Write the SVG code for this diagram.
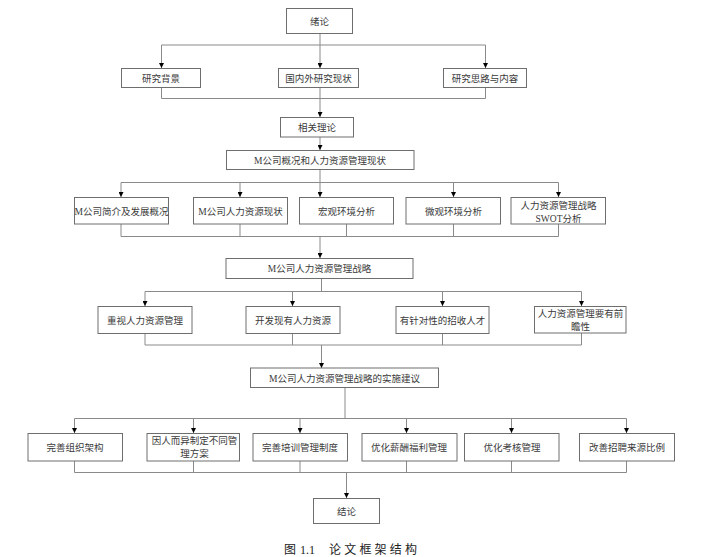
<svg xmlns="http://www.w3.org/2000/svg" width="715" height="557" viewBox="0 0 715 557">
<style>
.box{fill:#fff;stroke:#6e6e6e;stroke-width:1}
.t{font-family:"Liberation Serif","Noto Sans CJK SC",serif;font-size:9.5px;fill:#3a3a3a;text-anchor:middle}
.c{fill:none;stroke:#8a8a8a;stroke-width:1}
.a{fill:none;stroke:#8a8a8a;stroke-width:1;marker-end:url(#ah)}
.cap{font-family:"Liberation Serif","Noto Sans CJK SC",serif;font-size:12px;fill:#222}
</style>
<defs>
<marker id="ah" viewBox="0 0 6 6" refX="6" refY="3" markerWidth="5" markerHeight="5" markerUnits="userSpaceOnUse" orient="auto">
<path d="M0,0 L6,3 L0,6 z" fill="#000"/>
</marker>
</defs>
<rect width="715" height="557" fill="#fff"/>
<g id="connectors">
<path class="c" d="M320,33 V45 M161.5,45 H485.5"/>
<path class="a" d="M161.5,45 V68"/>
<path class="a" d="M320,45 V68"/>
<path class="a" d="M485.5,45 V68"/>
<path class="c" d="M161.5,87 V98.5 M320,87 V98.5 M485.5,87 V98.5 M161.5,98.5 H485.5"/>
<path class="a" d="M320,98.5 V117"/>
<path class="a" d="M320,137 V150"/>
<path class="c" d="M320,169 V182.5 M121,182.5 H558.5"/>
<path class="a" d="M121,182.5 V197"/>
<path class="a" d="M240,182.5 V197"/>
<path class="a" d="M320,182.5 V197"/>
<path class="a" d="M453.5,182.5 V197"/>
<path class="a" d="M558.5,182.5 V197"/>
<path class="c" d="M121,224 V236.5 M240,224 V236.5 M346.5,224 V236.5 M453.5,224 V236.5 M558.5,224 V236.5 M121,236.5 H558.5"/>
<path class="a" d="M320,236.5 V258"/>
<path class="c" d="M321.5,278 V291.5 M145,291.5 H581.5"/>
<path class="a" d="M145,291.5 V306"/>
<path class="a" d="M292.5,291.5 V306"/>
<path class="a" d="M442.5,291.5 V306"/>
<path class="a" d="M581.5,291.5 V306"/>
<path class="c" d="M145,333 V345 M292.5,333 V345 M442.5,333 V345 M581.5,333 V345 M145,345 H581.5"/>
<path class="a" d="M321.5,345 V368"/>
<path class="c" d="M345,387 V418.5 M74.5,418.5 H626.5"/>
<path class="a" d="M74.5,418.5 V433"/>
<path class="a" d="M193.5,418.5 V433"/>
<path class="a" d="M300,418.5 V433"/>
<path class="a" d="M406.5,418.5 V433"/>
<path class="a" d="M511.5,418.5 V433"/>
<path class="a" d="M626.5,418.5 V433"/>
<path class="c" d="M74.5,461 V472.5 M193.5,461 V472.5 M300,461 V472.5 M406.5,461 V472.5 M511.5,461 V472.5 M626.5,461 V472.5 M74.5,472.5 H626.5"/>
<path class="a" d="M346.5,472.5 V498"/>
</g>
<g id="n-xulun"><rect class="box" x="286.5" y="8.5" width="66" height="25"/><text class="t" x="319.5" y="24.5">绪论</text></g>
<g id="n-bg"><rect class="box" x="121.5" y="68.5" width="79" height="19"/><text class="t" x="161" y="81.5">研究背景</text></g>
<g id="n-gn"><rect class="box" x="278.5" y="68.5" width="80" height="19"/><text class="t" x="318.5" y="81.5">国内外研究现状</text></g>
<g id="n-sl"><rect class="box" x="443.5" y="68.5" width="83" height="19"/><text class="t" x="485" y="81.5">研究思路与内容</text></g>
<g id="n-xg"><rect class="box" x="280.5" y="117.5" width="73" height="19.5"/><text class="t" x="317" y="131">相关理论</text></g>
<g id="n-gk"><rect class="box" x="226.5" y="150.5" width="187.5" height="19"/><text class="t" x="320" y="163.5">M公司概况和人力资源管理现状</text></g>
<g id="n-jj"><rect class="box" x="74.5" y="197.5" width="94" height="26.5"/><text class="t" x="121.5" y="214.5">M公司简介及发展概况</text></g>
<g id="n-rlxz"><rect class="box" x="193.5" y="197.5" width="94" height="26.5"/><text class="t" x="240.5" y="214.5">M公司人力资源现状</text></g>
<g id="n-hg"><rect class="box" x="299.5" y="197.5" width="94" height="26.5"/><text class="t" x="346.5" y="214.5">宏观环境分析</text></g>
<g id="n-wg"><rect class="box" x="406" y="197.5" width="94.5" height="26.5"/><text class="t" x="453.5" y="214.5">微观环境分析</text></g>
<g id="n-swot"><rect class="box" x="511" y="197.5" width="94.5" height="26.5"/><text class="t" x="558.5" y="208.5">人力资源管理战略</text><text class="t" x="558.5" y="221.5">SWOT分析</text></g>
<g id="n-zl"><rect class="box" x="226" y="258.5" width="187" height="20"/><text class="t" x="319.5" y="272">M公司人力资源管理战略</text></g>
<g id="n-zs"><rect class="box" x="98" y="306.5" width="94" height="27"/><text class="t" x="145" y="323.5">重视人力资源管理</text></g>
<g id="n-kf"><rect class="box" x="246" y="306.5" width="94" height="27"/><text class="t" x="293" y="323.5">开发现有人力资源</text></g>
<g id="n-zd"><rect class="box" x="396" y="306.5" width="93" height="27"/><text class="t" x="442.5" y="323.5">有针对性的招收人才</text></g>
<g id="n-qz"><rect class="box" x="534.5" y="306.5" width="91.5" height="26.5"/><text class="t" x="580.5" y="317">人力资源管理要有前</text><text class="t" x="580.5" y="330">瞻性</text></g>
<g id="n-ss"><rect class="box" x="250.5" y="368" width="188" height="19.5"/><text class="t" x="344.5" y="381.5">M公司人力资源管理战略的实施建议</text></g>
<g id="n-zz"><rect class="box" x="28" y="433.5" width="94.5" height="27.5"/><text class="t" x="75" y="450.5">完善组织架构</text></g>
<g id="n-yr"><rect class="box" x="147" y="433.5" width="92.5" height="27.5"/><text class="t" x="194.5" y="443.5">因人而异制定不同管</text><text class="t" x="194.5" y="456.5">理方案</text></g>
<g id="n-px"><rect class="box" x="253" y="433.5" width="94.5" height="27.5"/><text class="t" x="300" y="450.5">完善培训管理制度</text></g>
<g id="n-xc"><rect class="box" x="362" y="433.5" width="95" height="27.5"/><text class="t" x="409" y="450.5">优化薪酬福利管理</text></g>
<g id="n-kh"><rect class="box" x="464.5" y="433.5" width="94.5" height="27.5"/><text class="t" x="512" y="450.5">优化考核管理</text></g>
<g id="n-zp"><rect class="box" x="579.5" y="433.5" width="95" height="27.5"/><text class="t" x="627" y="450.5">改善招聘来源比例</text></g>
<g id="n-jl"><rect class="box" x="313.5" y="498.5" width="66" height="25"/><text class="t" x="346.5" y="514.5">结论</text></g>
<text class="cap" y="554"><tspan x="284">图</tspan><tspan x="300">1.1</tspan><tspan x="329" letter-spacing="3.2">论文框架结构</tspan></text>
</svg>
